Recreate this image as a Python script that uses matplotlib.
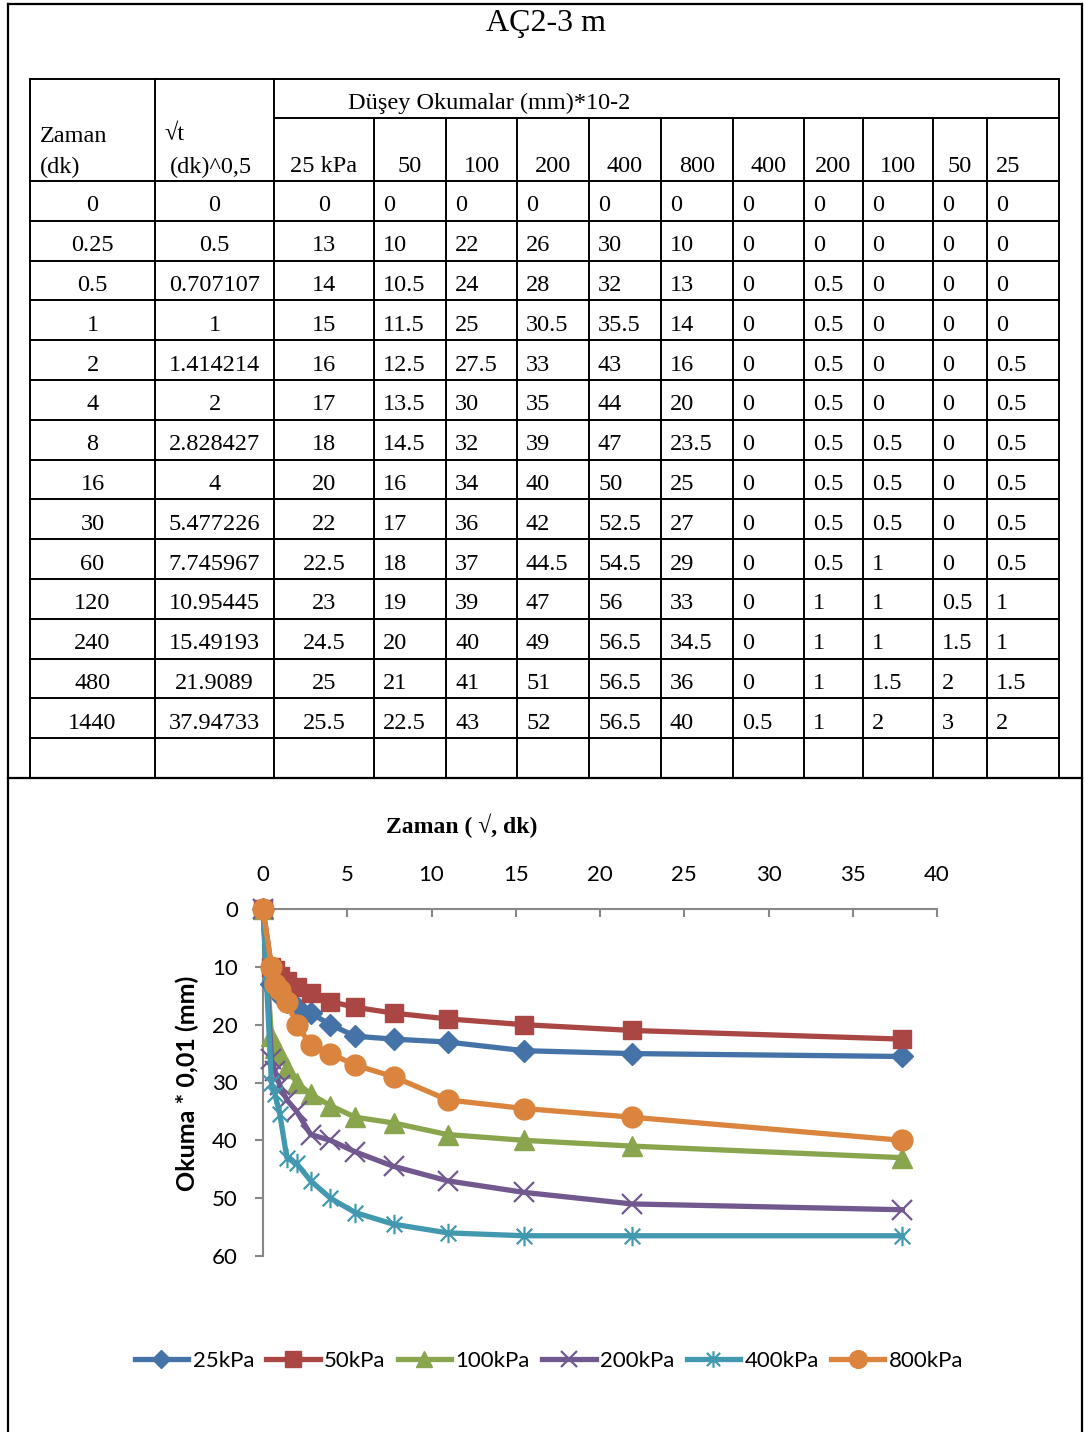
import matplotlib
matplotlib.use("Agg")
import matplotlib.pyplot as plt
from matplotlib.path import Path

# ---------------- data ----------------
title = "AÇ2-3 m"
time_labels = ["0", "0.25", "0.5", "1", "2", "4", "8", "16", "30", "60", "120", "240", "480", "1440"]
sqrt_labels = ["0", "0.5", "0.707107", "1", "1.414214", "2", "2.828427", "4", "5.477226",
               "7.745967", "10.95445", "15.49193", "21.9089", "37.94733"]
load_headers = ["25 kPa", "50", "100", "200", "400", "800", "400", "200", "100", "50", "25"]

r25 = [0, 13, 14, 15, 16, 17, 18, 20, 22, 22.5, 23, 24.5, 25, 25.5]
r50 = [0, 10, 10.5, 11.5, 12.5, 13.5, 14.5, 16, 17, 18, 19, 20, 21, 22.5]
r100 = [0, 22, 24, 25, 27.5, 30, 32, 34, 36, 37, 39, 40, 41, 43]
r200 = [0, 26, 28, 30.5, 33, 35, 39, 40, 42, 44.5, 47, 49, 51, 52]
r400 = [0, 30, 32, 35.5, 43, 44, 47, 50, 52.5, 54.5, 56, 56.5, 56.5, 56.5]
r800 = [0, 10, 13, 14, 16, 20, 23.5, 25, 27, 29, 33, 34.5, 36, 40]
u400 = [0, 0, 0, 0, 0, 0, 0, 0, 0, 0, 0, 0, 0, 0.5]
u200 = [0, 0, 0.5, 0.5, 0.5, 0.5, 0.5, 0.5, 0.5, 0.5, 1, 1, 1, 1]
u100 = [0, 0, 0, 0, 0, 0, 0.5, 0.5, 0.5, 1, 1, 1, 1.5, 2]
u50 = [0, 0, 0, 0, 0, 0, 0, 0, 0, 0, 0.5, 1.5, 2, 3]
u25 = [0, 0, 0, 0, 0.5, 0.5, 0.5, 0.5, 0.5, 0.5, 1, 1, 1.5, 2]

series_names = ["25kPa", "50kPa", "100kPa", "200kPa", "400kPa", "800kPa"]
x_label = "Zaman ( √, dk)"
y_label = "Okuma * 0,01 (mm)"
x_ticks = [0, 5, 10, 15, 20, 25, 30, 35, 40]
y_ticks = [0, 10, 20, 30, 40, 50, 60]

# ---------------- figure ----------------
W, H = 1085, 1432
fig = plt.figure(figsize=(W / 100, H / 100), dpi=100)

# layout axes in pixel coordinates for the document table
lay = fig.add_axes([0, 0, 1, 1])
lay.set_xlim(0, W)
lay.set_ylim(H, 0)
lay.axis("off")

serif = ["Liberation Serif", "DejaVu Serif"]
sans = ["Lato", "DejaVu Sans"]

# outer frame
lw_frame = 1.6
lay.plot([8, 8], [4, H], color="black", lw=lw_frame)
lay.plot([1082, 1082], [4, H], color="black", lw=lw_frame)
lay.plot([8, 1082], [4, 4], color="black", lw=lw_frame)
lay.plot([8, 1082], [778, 778], color="black", lw=lw_frame)

lay.text(546, 23, title, fontsize=23, family=serif, ha="center", va="center")

# table geometry
col_edges = [30, 155, 274, 374, 446, 517, 589, 661, 733, 804, 863, 933, 987, 1059]
top, mid, hdr_bottom, bottom = 79, 118, 181, 778
n_rows = len(time_labels) + 1
row_h = (bottom - hdr_bottom) / n_rows
lw_t = 1.4

lay.plot([col_edges[0], col_edges[-1]], [top, top], color="black", lw=lw_t)
lay.plot([col_edges[2], col_edges[-1]], [mid, mid], color="black", lw=lw_t)
for i in range(n_rows + 1):
    y = hdr_bottom + i * row_h
    lay.plot([col_edges[0], col_edges[-1]], [y, y], color="black", lw=lw_t)
for j, x in enumerate(col_edges):
    y0 = top if j in (0, 1, 2, len(col_edges) - 1) else mid
    lay.plot([x, x], [y0, bottom], color="black", lw=lw_t)

fs = 17.5
lay.text(40, 136, "Zaman", fontsize=fs, family=serif, ha="left", va="center")
lay.text(40, 167, "(dk)", fontsize=fs, family=serif, ha="left", va="center")
lay.text(164, 134, "√t", fontsize=fs, family=serif, ha="left", va="center")
lay.text(170, 167, "(dk)^0,5", fontsize=fs, family=serif, ha="left", va="center")
lay.text(348, 103, "Düşey Okumalar (mm)*10-2", fontsize=fs, family=serif, ha="left", va="center")
for j, h in enumerate(load_headers):
    c0, c1 = col_edges[j + 2], col_edges[j + 3]
    if j == len(load_headers) - 1:
        lay.text(c0 + 9, 167, h, fontsize=fs, family=serif, ha="left", va="center")
    else:
        lay.text((c0 + c1) / 2, 167, h, fontsize=fs, family=serif, ha="center", va="center")

table_cols = [r25, r50, r100, r200, r400, r800, u400, u200, u100, u50, u25]


def fmt(v):
    return str(int(v)) if float(v).is_integer() else str(v)


for i in range(len(time_labels)):
    yc = hdr_bottom + (i + 0.5) * row_h + 5
    lay.text((col_edges[0] + col_edges[1]) / 2, yc, time_labels[i], fontsize=fs, family=serif,
             ha="center", va="center")
    lay.text((col_edges[1] + col_edges[2]) / 2, yc, sqrt_labels[i], fontsize=fs, family=serif,
             ha="center", va="center")
    for j, col in enumerate(table_cols):
        c0, c1 = col_edges[j + 2], col_edges[j + 3]
        if j == 0:
            lay.text((c0 + c1) / 2, yc, fmt(col[i]), fontsize=fs, family=serif, ha="center", va="center")
        else:
            lay.text(c0 + 9, yc, fmt(col[i]), fontsize=fs, family=serif, ha="left", va="center")

# ---------------- chart ----------------
x_vals = [float(s) for s in sqrt_labels]
ax_l, ax_r, ax_t, ax_b = 263, 937, 909, 1256
ax = fig.add_axes([ax_l / W, 1 - ax_b / H, (ax_r - ax_l) / W, (ax_b - ax_t) / H])
ax.set_xlim(0, 40)
ax.set_ylim(60, 0)
ax.patch.set_alpha(0)

colors = ["#4572A7", "#AA4643", "#89A54E", "#71588F", "#4198AF", "#DB843D"]
star = Path([(-1, -1), (1, 1), (-1, 1), (1, -1), (0, -1.25), (0, 1.25)],
            [Path.MOVETO, Path.LINETO, Path.MOVETO, Path.LINETO, Path.MOVETO, Path.LINETO])
markers = ["D", "s", "^", "x", star, "o"]
msizes = [11, 13, 14, 14, 14, 15]
mews = [1, 1, 1, 1.6, 1.6, 1]
data_series = [r25, r50, r100, r200, r400, r800]
handles = []
for k, (vals, name) in enumerate(zip(data_series, series_names)):
    ln, = ax.plot(x_vals, vals, color=colors[k], lw=3.8, marker=markers[k], ms=msizes[k],
                  mfc=colors[k], mec=colors[k], mew=mews[k], label=name, zorder=3 + k,
                  solid_joinstyle="round", clip_on=False)
    handles.append(ln)

for s in ["right", "bottom"]:
    ax.spines[s].set_visible(False)
for s in ["top", "left"]:
    ax.spines[s].set_color("#888888")
    ax.spines[s].set_linewidth(1.5)
ax.xaxis.set_ticks_position("top")
ax.set_xticks(x_ticks)
ax.set_yticks(y_ticks)
ax.tick_params(axis="x", direction="in", length=6, width=1.5, color="#888888", pad=17,
               labelsize=16, labelcolor="black")
ax.tick_params(axis="y", direction="out", length=6, width=1.5, color="#888888", pad=12,
               labelsize=16, labelcolor="black")
for lab in ax.get_xticklabels() + ax.get_yticklabels():
    lab.set_family(sans)

fig.text(462 / W, 1 - 826 / H, x_label, fontsize=17, family=serif, weight="bold",
         ha="center", va="center")
fig.text(187 / W, 1 - 1083 / H, y_label, fontsize=18, family=sans, weight="bold",
         ha="center", va="center", rotation=90)

leg = fig.legend(handles=handles, loc="center", bbox_to_anchor=(549 / W, 1 - 1361 / H),
                 ncol=6, frameon=False, handlelength=2.4, handletextpad=0.2,
                 columnspacing=0.55, prop={"family": sans, "size": 16}, markerscale=0.85)

fig.savefig("out.png", dpi=100)
